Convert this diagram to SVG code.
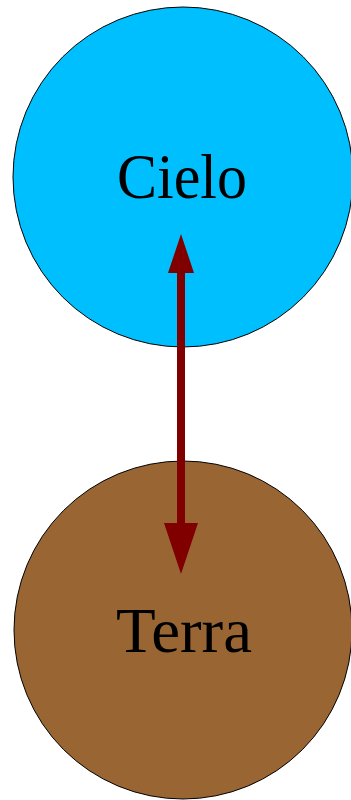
<svg xmlns="http://www.w3.org/2000/svg" width="351" height="800" viewBox="0 0 351 800">
<style>
.node{stroke:#000;stroke-width:1}
.lbl{font-family:"Liberation Serif","Times New Roman",serif;font-size:63px;fill:#000;text-anchor:middle}
.edge{stroke:#800000;stroke-width:8;fill:none}
.head{fill:#800000}
</style>
<g id="cielo">
<circle class="node" cx="183" cy="177" r="170" fill="#00BFFF"/>
<text class="lbl" x="182" y="198" textLength="130" lengthAdjust="spacingAndGlyphs">Cielo</text>
</g>
<g id="terra">
<circle class="node" cx="183" cy="630" r="169" fill="#996633"/>
<text class="lbl" x="184" y="652" textLength="136" lengthAdjust="spacingAndGlyphs">Terra</text>
</g>
<g id="connectors">
<line class="edge" x1="181" y1="270" x2="181" y2="527"/>
<polygon class="head" points="181,234 168,273 194,273"/>
<polygon class="head" points="181,574 164,523 198,523"/>
</g>
</svg>
